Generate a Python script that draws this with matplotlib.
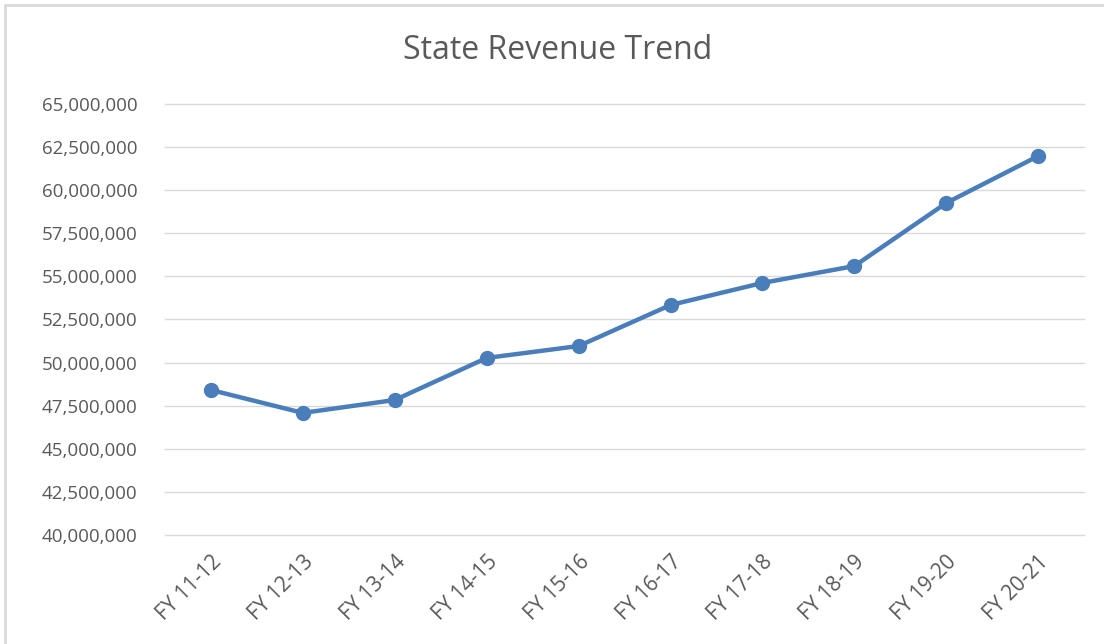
import matplotlib.pyplot as plt
from matplotlib.ticker import FuncFormatter, MultipleLocator
from matplotlib.patches import Rectangle

years = ['FY 11-12', 'FY 12-13', 'FY 13-14', 'FY 14-15', 'FY 15-16',
         'FY 16-17', 'FY 17-18', 'FY 18-19', 'FY 19-20', 'FY 20-21']
revenue = [48410000, 47080000, 47830000, 50270000, 50960000,
           53340000, 54620000, 55600000, 59260000, 61980000]

plt.rcParams['font.family'] = ['Open Sans', 'DejaVu Sans']
gray = '#595959'

fig = plt.figure(figsize=(11.04, 6.44), dpi=100)
ax = fig.add_axes([0.1495, 0.1693, 0.8325, 0.6692])

x = list(range(len(years)))
ax.plot(x, revenue, color='#4a7ebb', linewidth=3.2, marker='o', markersize=10,
        solid_capstyle='round', zorder=3)

ax.set_xlim(-0.5, len(years) - 0.5)
ax.set_ylim(40000000, 65000000)
ax.yaxis.set_major_locator(MultipleLocator(2500000))
ax.yaxis.set_major_formatter(FuncFormatter(lambda v, p: f'{v:,.0f}'))
ax.grid(axis='y', color='#d9d9d9', linewidth=1.0)
for gl in ax.get_ygridlines():
    gl.set_clip_on(False)
ax.set_axisbelow(True)
for s in ax.spines.values():
    s.set_visible(False)

ax.set_xticks(x)
ax.set_xticklabels(years, rotation=45, ha='right', rotation_mode='anchor')
ax.tick_params(axis='both', length=0, colors=gray)
ax.tick_params(axis='y', labelsize=13.5, pad=20)
ax.tick_params(axis='x', labelsize=15, pad=12)

fig.text(0.505, 0.921, 'State Revenue Trend', ha='center', va='center',
         fontsize=23, color=gray)

fig.patches.append(Rectangle((5 / 1104, -0.1), 1.2, 1 - 5 / 644 + 0.1,
                             transform=fig.transFigure, fill=False,
                             edgecolor='#d9d9d9', linewidth=2))

fig.savefig('out.png', dpi=100)
